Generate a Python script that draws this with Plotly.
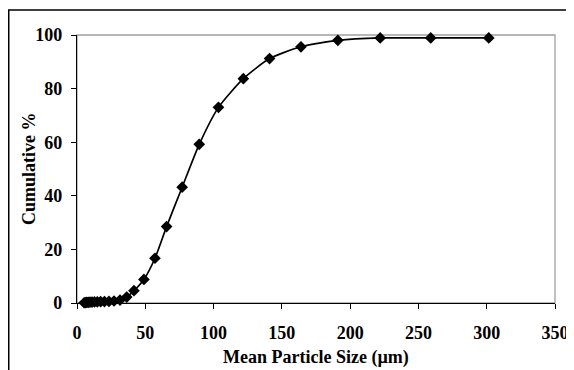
import plotly.graph_objects as go

sizes_um = [5.2, 6.1, 7.1, 8.2, 9.5, 11.0, 12.8, 14.9, 17.3, 20.1, 23.4, 27.1,
            31.5, 36.4, 41.7, 49.0, 57.1, 65.6, 77.0, 89.5, 103.6, 121.8,
            141.0, 164.0, 191.0, 222.0, 259.0, 301.5]
cumulative_pct = [0.1, 0.15, 0.2, 0.25, 0.3, 0.35, 0.4, 0.45, 0.5, 0.55, 0.6, 0.75,
                  1.1, 2.2, 4.6, 8.8, 16.7, 28.5, 43.2, 59.2, 73.0, 83.7,
                  91.2, 95.6, 98.0, 98.9, 98.9, 98.9]
x_ticks = [0, 50, 100, 150, 200, 250, 300, 350]
y_ticks = [0, 20, 40, 60, 80, 100]
x_title = "Mean Particle Size (µm)"
y_title = "Cumulative %"

font_family = "Liberation Serif"

fig = go.Figure()
fig.add_trace(go.Scatter(
    x=sizes_um, y=cumulative_pct, mode="lines+markers",
    line=dict(color="black", width=1.7, shape="spline", smoothing=0.6),
    marker=dict(symbol="diamond", size=9, color="black"),
    showlegend=False, cliponaxis=False,
))

fig.add_shape(type="rect", xref="x domain", yref="y domain", x0=0, x1=1, y0=0, y1=1,
              line=dict(color="#a0a0a0", width=1.3), layer="below")
fig.add_shape(type="rect", xref="paper", yref="paper", x0=-0.1428, x1=1.2, y0=-0.4, y1=1.093,
              line=dict(color="black", width=1.5), layer="below")

title_font = dict(family=font_family, size=18, color="black")
tick_font = dict(family=font_family, size=18, color="black", weight="bold")

fig.add_annotation(text="<b>%s</b>" % x_title, xref="paper", yref="paper",
                   x=0.5, y=-0.2015, xanchor="center", yanchor="middle",
                   showarrow=False, font=title_font)
fig.add_annotation(text="<b>%s</b>" % y_title, xref="paper", yref="paper",
                   x=-0.1004, y=0.5, xanchor="center", yanchor="middle", textangle=-90,
                   showarrow=False, font=title_font)

fig.update_layout(
    width=566, height=362,
    margin=dict(l=69, r=19, t=27, b=67, autoexpand=False),
    paper_bgcolor="white", plot_bgcolor="white",
    font=dict(family=font_family, color="black"),
    xaxis=dict(
        range=[0, 350], tickvals=x_ticks, ticks="outside", ticklen=5, tickcolor="black",
        showline=True, linecolor="black", linewidth=1.3, showgrid=False, zeroline=False,
        tickfont=tick_font, automargin=False, ticklabelstandoff=8,
    ),
    yaxis=dict(
        range=[0, 100], tickvals=y_ticks, ticks="outside", ticklen=5, tickcolor="black",
        showline=True, linecolor="black", linewidth=1.3, showgrid=False, zeroline=False,
        tickfont=tick_font, automargin=False, ticklabelstandoff=5,
    ),
)

fig.write_html("out.html")
